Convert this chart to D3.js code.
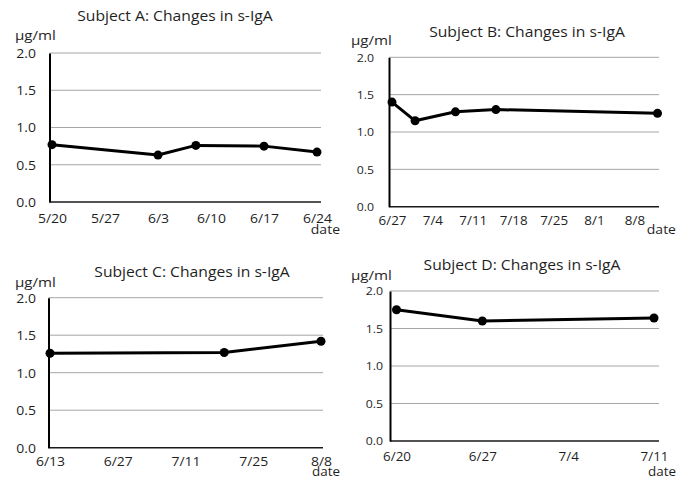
<!DOCTYPE html>
<html>
<head>
<meta charset="utf-8">
<script src="https://cdn.jsdelivr.net/npm/d3@7"></script>
<style>
  html, body { margin: 0; padding: 0; background: #fff; }
  svg { display: block; }
  text { font-family: "Open Sans", "Noto Sans", sans-serif; fill: #1f1f1f; }
</style>
</head>
<body>
<svg id="chart" width="676" height="479"></svg>
<script>
// ---------- data ----------
const titles = [
  "Subject A: Changes in s-IgA",
  "Subject B: Changes in s-IgA",
  "Subject C: Changes in s-IgA",
  "Subject D: Changes in s-IgA"
];
const unitLabel = "µg/ml";
const xAxisLabel = "date";
const yTicks = [0, 0.5, 1.0, 1.5, 2.0];

const datesA = ["5/20", "6/3", "6/8", "6/17", "6/24"];
const valuesA = [0.77, 0.63, 0.76, 0.75, 0.67];
const ticksA = ["5/20", "5/27", "6/3", "6/10", "6/17", "6/24"];

const datesB = ["6/27", "7/1", "7/8", "7/15", "8/12"];
const valuesB = [1.40, 1.15, 1.27, 1.30, 1.25];
const ticksB = ["6/27", "7/4", "7/11", "7/18", "7/25", "8/1", "8/8"];

const datesC = ["6/13", "7/19", "8/8"];
const valuesC = [1.26, 1.27, 1.42];
const ticksC = ["6/13", "6/27", "7/11", "7/25", "8/8"];

const datesD = ["6/20", "6/27", "7/11"];
const valuesD = [1.75, 1.60, 1.64];
const ticksD = ["6/20", "6/27", "7/4", "7/11"];

// ---------- helpers ----------
const parse = s => { const [m, d] = s.split("/").map(Number); return new Date(2016, m - 1, d); };
const fmt = d => (d.getMonth() + 1) + "/" + d.getDate();
const SX = 1.12; // horizontal stretch of the lettering
function stretch(sel) {
  sel.each(function () {
    const t = d3.select(this);
    const xv = +(t.attr("x") || 0);
    t.attr("x", xv / SX).attr("transform", `scale(${SX},1)`);
  });
}

const svg = d3.select("#chart");

// layout per panel (geometry only)
const panels = [
  { title: titles[0], dates: datesA, values: valuesA, ticks: ticksA,
    axisX: 49.5, gridRight: 321, top: 53, bottom: 202, x0: 52, x1: 317,
    titleX: 175, titleY: 21, unitX: 15, unitY: 40, tickRight: 36, tickSize: 12.5,
    xLabSize: 12.5, xLabY: 223, dateX: 340, dateY: 234, dateSize: 12.5 },
  { title: titles[1], dates: datesB, values: valuesB, ticks: ticksB,
    axisX: 389, gridRight: 659, top: 57.3, bottom: 206.7, x0: 392, x1: 657.5,
    titleX: 527, titleY: 37, unitX: 351, unitY: 45, tickRight: 374, tickSize: 11,
    xLabSize: 12, xLabY: 225, dateX: 676, dateY: 234.5, dateSize: 12.5 },
  { title: titles[2], dates: datesC, values: valuesC, ticks: ticksC,
    axisX: 48.5, gridRight: 323, top: 297.7, bottom: 447.7, x0: 50, x1: 321,
    titleX: 192, titleY: 277, unitX: 15, unitY: 287, tickRight: 36, tickSize: 12.5,
    xLabSize: 12.5, xLabY: 466, dateX: 340, dateY: 476, dateSize: 12 },
  { title: titles[3], dates: datesD, values: valuesD, ticks: ticksD,
    axisX: 390, gridRight: 659, top: 291, bottom: 441, x0: 396.5, x1: 654,
    titleX: 522, titleY: 270, unitX: 351, unitY: 280, tickRight: 383, tickSize: 11,
    xLabSize: 12, xLabY: 461, dateX: 676, dateY: 476, dateSize: 12 }
];

panels.forEach(p => {
  const pts = p.dates.map((d, i) => ({ date: parse(d), value: p.values[i] }));
  const x = d3.scaleTime()
    .domain([pts[0].date, pts[pts.length - 1].date])
    .range([p.x0, p.x1]);
  const y = d3.scaleLinear().domain([0, 2]).range([p.bottom, p.top]);

  const g = svg.append("g");

  // gridlines
  g.append("g").selectAll("line")
    .data(yTicks.filter(t => t > 0))
    .join("line")
    .attr("x1", p.axisX).attr("x2", p.gridRight)
    .attr("y1", d => y(d)).attr("y2", d => y(d))
    .attr("stroke", "#a6a6a6").attr("stroke-width", 1);

  // x baseline
  g.append("line")
    .attr("x1", p.axisX).attr("x2", p.gridRight)
    .attr("y1", y(0)).attr("y2", y(0))
    .attr("stroke", "#1a1a1a").attr("stroke-width", 1.5);

  // y axis
  const yAxis = d3.axisLeft(y).tickValues(yTicks).tickFormat(d3.format(".1f")).tickSize(0).tickPadding(0);
  const ya = g.append("g").attr("transform", `translate(${p.axisX},0)`).call(yAxis);
  ya.select(".domain").attr("stroke", "#000").attr("stroke-width", 2);
  ya.selectAll("text")
    .attr("x", p.tickRight - p.axisX)
    .attr("dy", "0.35em")
    .style("font-family", '"Open Sans", sans-serif')
    .style("font-size", p.tickSize + "px")
    .attr("fill", "#1f1f1f")
    .call(stretch);

  // x axis labels
  const tickDates = p.ticks.map(parse);
  const xAxis = d3.axisBottom(x).tickValues(tickDates).tickFormat(fmt).tickSize(0).tickPadding(0);
  const xa = g.append("g").attr("transform", `translate(0,${y(0)})`).call(xAxis);
  xa.select(".domain").remove();
  xa.selectAll("text")
    .attr("y", p.xLabY - y(0))
    .attr("dy", 0)
    .attr("x", 0)
    .style("font-family", '"Open Sans", sans-serif')
    .style("font-size", p.xLabSize + "px")
    .attr("fill", "#1f1f1f")
    .call(stretch);

  // line
  const line = d3.line().x(d => x(d.date)).y(d => y(d.value));
  g.append("path").datum(pts)
    .attr("d", line)
    .attr("fill", "none")
    .attr("stroke", "#000")
    .attr("stroke-width", 3)
    .attr("stroke-linejoin", "round");
  g.append("g").selectAll("circle")
    .data(pts).join("circle")
    .attr("cx", d => x(d.date)).attr("cy", d => y(d.value))
    .attr("r", 4.5).attr("fill", "#000");

  // title
  g.append("text")
    .attr("x", p.titleX).attr("y", p.titleY)
    .attr("text-anchor", "middle")
    .style("font-size", "14px")
    .text(p.title)
    .call(stretch);

  // unit
  g.append("text")
    .attr("x", p.unitX).attr("y", p.unitY)
    .style("font-size", "13.5px")
    .text(unitLabel)
    .call(stretch);

  // date label
  g.append("text")
    .attr("x", p.dateX).attr("y", p.dateY)
    .attr("text-anchor", "end")
    .style("font-size", p.dateSize + "px")
    .text(xAxisLabel)
    .call(stretch);
});
</script>
</body>
</html>
